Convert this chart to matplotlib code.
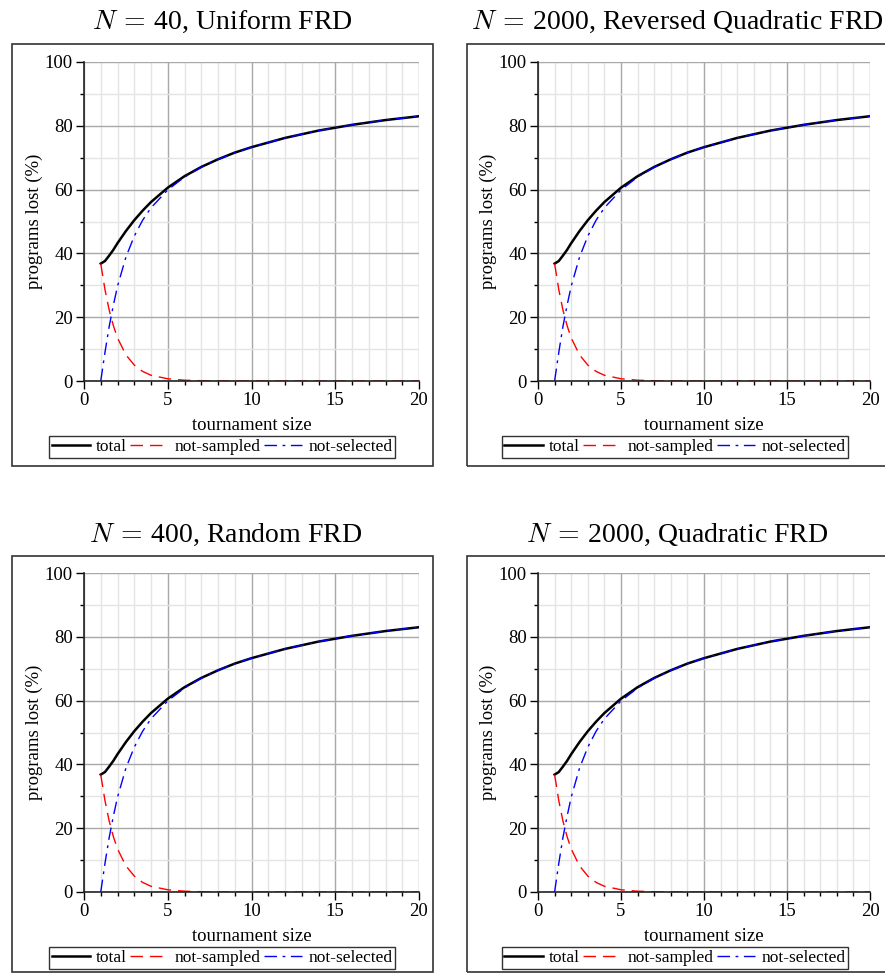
import matplotlib
matplotlib.use("Agg")
import matplotlib.pyplot as plt
from matplotlib.patches import Rectangle
from matplotlib.ticker import MultipleLocator

plt.rcParams['font.family'] = ['Liberation Serif', 'DejaVu Serif']
plt.rcParams['mathtext.fontset'] = 'cm'

# tournament sizes and percentages
tsize = [1, 1.25, 1.5, 1.75, 2, 2.5, 3, 3.5, 4, 5, 6, 7, 8, 9, 10, 12, 14, 16, 18, 20]
total = [36.8, 37.6, 39.3, 41.1, 43.2, 47.0, 50.4, 53.4, 56.1, 60.6, 64.2, 67.1,
         69.5, 71.6, 73.3, 76.2, 78.5, 80.3, 81.8, 83.0]
not_sampled = [36.8, 28.7, 22.3, 17.4, 13.5, 8.2, 5.0, 3.0, 1.8, 0.7, 0.25, 0.09,
               0.03, 0.01, 0, 0, 0, 0, 0, 0]
not_selected = [0, 8.9, 17.0, 23.7, 29.7, 38.8, 45.4, 50.4, 54.3, 59.9, 63.95, 67.0,
                69.47, 71.59, 73.3, 76.2, 78.5, 80.3, 81.8, 83.0]

titles = [r'$N\,=\,$40, Uniform FRD', r'$N\,=\,$2000, Reversed Quadratic FRD',
          r'$N\,=\,$400, Random FRD', r'$N\,=\,$2000, Quadratic FRD']

W, H = 885, 974
fig = plt.figure(figsize=(W / 100, H / 100), dpi=100)

# pixel layout: (axes left, axes right, axes top, axes bottom, box left, box right, box top, box bottom, title x, title y)
panels = [
    (84, 419, 62, 381, 12, 433, 44, 466, 222, 22),
    (538, 870, 62, 381, 467, 900, 44, 466, 677, 22),
    (84, 419, 573, 892, 12, 433, 556, 972, 226, 535),
    (538, 870, 573, 892, 467, 900, 556, 972, 677, 535),
]

for k, (x0, x1, y0, y1, bx0, bx1, by0, by1, tx, ty) in enumerate(panels):
    ax = fig.add_axes([x0 / W, 1 - y1 / H, (x1 - x0) / W, (y1 - y0) / H])
    ax.plot(tsize, total, color='black', lw=1.8, label='total')
    ax.plot(tsize, not_sampled, color='red', lw=1.0, dashes=(9, 5), label='not-sampled')
    ax.plot(tsize, not_selected, color='blue', lw=1.0, dashes=(9, 4, 2, 4), label='not-selected')

    ax.set_xlim(0, 20)
    ax.set_ylim(0, 100)
    ax.xaxis.set_major_locator(MultipleLocator(5))
    ax.xaxis.set_minor_locator(MultipleLocator(1))
    ax.yaxis.set_major_locator(MultipleLocator(20))
    ax.yaxis.set_minor_locator(MultipleLocator(10))
    ax.grid(which='major', color='#a8a8a8', lw=1.0)
    ax.grid(which='minor', color='#e4e4e4', lw=1.0)
    ax.set_axisbelow(True)
    for s in ['top', 'right']:
        ax.spines[s].set_visible(False)
    for s in ['left', 'bottom']:
        ax.spines[s].set_color('#222222')
        ax.spines[s].set_linewidth(1.2)
    ax.tick_params(which='major', length=6, width=1, labelsize=13.5, pad=2)
    ax.tick_params(which='minor', length=3, width=1)
    ax.set_xlabel('tournament size', fontsize=13.5, labelpad=6)
    ax.set_ylabel('programs lost (%)', fontsize=13.5, labelpad=1)

    leg = ax.legend(loc='center', bbox_to_anchor=(0.412, -0.207), ncol=3, fontsize=12.5,
                    frameon=True, fancybox=False, edgecolor='black', handlelength=2.2,
                    handletextpad=0.35, columnspacing=0.2, borderpad=0.15, borderaxespad=0)
    leg.get_frame().set_linewidth(1.0)

    fig.add_artist(Rectangle((bx0 / W, 1 - by1 / H), (bx1 - bx0) / W, (by1 - by0) / H,
                             transform=fig.transFigure, fill=False,
                             edgecolor='#333333', lw=1.2))
    fig.text(tx / W, 1 - ty / H, titles[k], ha='center', va='center', fontsize=20)

fig.savefig('out.png', dpi=100)
